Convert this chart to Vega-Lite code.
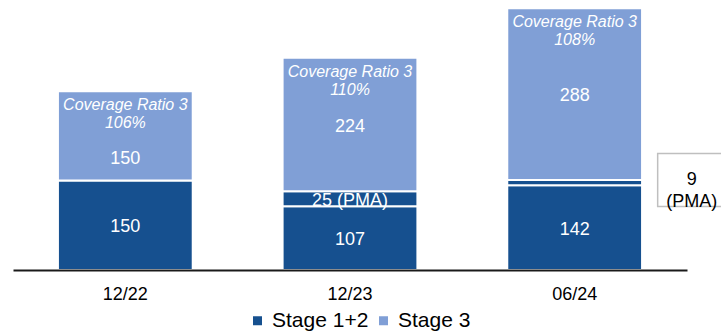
{
  "$schema": "https://vega.github.io/schema/vega-lite/v6.json",
  "width": 674,
  "height": 270,
  "autosize": {"type": "none"},
  "padding": {"left": 13, "top": 0, "right": 34, "bottom": 62},
  "background": "white",
  "config": {
    "view": {"stroke": null},
    "font": "Liberation Sans",
    "text": {"font": "Liberation Sans"}
  },
  "data": {
    "values": [
      {"date": "12/22", "series": "Stage 1+2", "part": "core", "value": 150, "label": "150"},
      {"date": "12/22", "series": "Stage 3", "part": "core", "value": 150, "label": "150", "cov": "Coverage Ratio 3\n106%"},
      {"date": "12/23", "series": "Stage 1+2", "part": "core", "value": 107, "label": "107"},
      {"date": "12/23", "series": "Stage 1+2", "part": "pma", "value": 25, "label": "25 (PMA)"},
      {"date": "12/23", "series": "Stage 3", "part": "core", "value": 224, "label": "224", "cov": "Coverage Ratio 3\n110%"},
      {"date": "06/24", "series": "Stage 1+2", "part": "core", "value": 142, "label": "142"},
      {"date": "06/24", "series": "Stage 1+2", "part": "pma", "value": 9, "label": "", "callout": "9\n(PMA)"},
      {"date": "06/24", "series": "Stage 3", "part": "core", "value": 288, "label": "288", "cov": "Coverage Ratio 3\n108%"}
    ]
  },
  "transform": [
    {"stack": "value", "groupby": ["date"], "sort": [{"field": "series", "order": "ascending"}, {"field": "part", "order": "ascending"}], "as": ["y0", "y1"]},
    {"calculate": "datum.series === 'Stage 3' ? min((datum.y0 + datum.y1) / 2, datum.y1 - 110) : (datum.y0 + datum.y1) / 2", "as": "ly"}
  ],
  "encoding": {
    "x": {
      "field": "date",
      "type": "nominal",
      "sort": ["12/22", "12/23", "06/24"],
      "scale": {"paddingInner": 0.4, "paddingOuter": 0.2},
      "axis": {
        "title": null,
        "labelAngle": 0,
        "ticks": false,
        "domainColor": "#1a1a1a",
        "domainWidth": 2,
        "labelFont": "Liberation Sans",
        "labelFontSize": 18,
        "labelColor": "black",
        "labelPadding": 15,
        "zindex": 1
      }
    }
  },
  "layer": [
    {
      "mark": {"type": "bar", "stroke": "white", "strokeWidth": 2},
      "encoding": {
        "y": {"field": "y1", "type": "quantitative", "scale": {"domain": [0, 453], "nice": false}, "axis": null},
        "y2": {"field": "y0"},
        "color": {
          "field": "series",
          "type": "nominal",
          "scale": {"domain": ["Stage 1+2", "Stage 3"], "range": ["#16508F", "#809FD6"]},
          "legend": {
            "title": null,
            "orient": "none",
            "legendX": 234,
            "legendY": 310,
            "direction": "horizontal",
            "symbolType": "square",
            "symbolSize": 81,
            "symbolStrokeWidth": 0,
            "labelFont": "Liberation Sans",
            "labelFontSize": 21,
            "labelColor": "black",
            "labelOffset": 4,
            "columnPadding": 4,
            "padding": 0
          }
        }
      }
    },
    {
      "transform": [{"filter": "datum.label !== ''"}],
      "mark": {"type": "text", "color": "white", "fontSize": 18, "baseline": "middle", "align": "center", "dy": 2},
      "encoding": {
        "y": {"field": "ly", "type": "quantitative", "scale": {"domain": [0, 453], "nice": false}},
        "text": {"field": "label"}
      }
    },
    {
      "transform": [{"filter": "isValid(datum.cov)"}],
      "mark": {"type": "text", "color": "white", "fontSize": 16, "fontStyle": "italic", "baseline": "top", "align": "center", "lineBreak": "\n", "lineHeight": 18, "dy": 6},
      "encoding": {
        "y": {"field": "y1", "type": "quantitative", "scale": {"domain": [0, 453], "nice": false}},
        "text": {"field": "cov"}
      }
    },
    {
      "transform": [{"filter": "isValid(datum.callout)"}],
      "mark": {"type": "point", "shape": "M-1,-0.78L1,-0.78L1,0.78L-1,0.78Z", "size": 4624, "filled": true, "fill": "white", "stroke": "#BFBFBF", "strokeWidth": 1.5, "opacity": 1, "xOffset": 117},
      "encoding": {
        "y": {"field": "y1", "type": "quantitative", "scale": {"domain": [0, 453], "nice": false}}
      }
    },
    {
      "transform": [{"filter": "isValid(datum.callout)"}],
      "mark": {"type": "text", "color": "black", "fontSize": 18, "baseline": "middle", "align": "center", "lineBreak": "\n", "lineHeight": 22, "xOffset": 117},
      "encoding": {
        "y": {"field": "y1", "type": "quantitative", "scale": {"domain": [0, 453], "nice": false}},
        "text": {"field": "callout"}
      }
    }
  ]
}
